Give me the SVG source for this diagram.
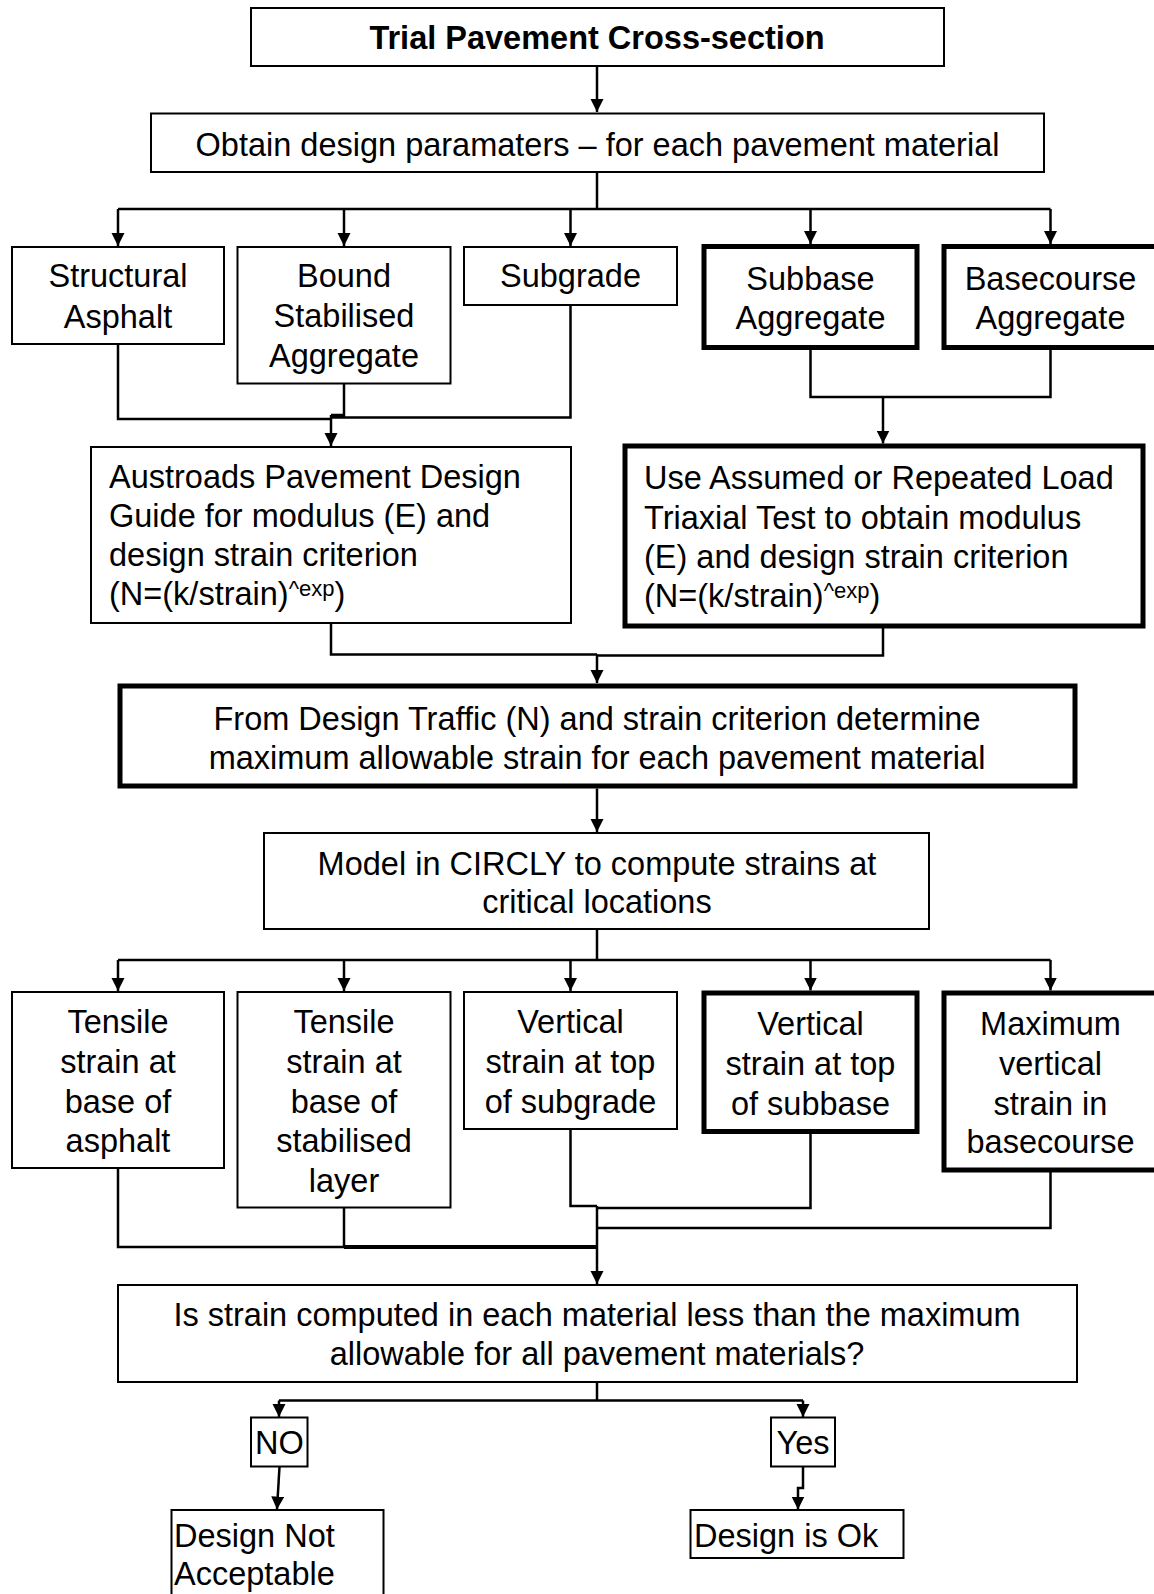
<svg xmlns="http://www.w3.org/2000/svg" width="1154" height="1594" viewBox="0 0 1154 1594">
  <style>
    .box { fill: #ffffff; stroke: #000000; stroke-width: 2; }
    .thick { fill: #ffffff; stroke: #000000; stroke-width: 5; }
    .lbl { font-family: "Liberation Sans", Arial, sans-serif; font-size: 32.5px; fill: #000000; }
    .c { text-anchor: middle; }
    .b { font-weight: bold; }
    .sup { font-size: 22px; }
    .wire { fill: none; stroke: #000000; stroke-width: 2.5; stroke-linejoin: miter; }
    .arrow { fill: none; stroke: #000000; stroke-width: 2.5; marker-end: url(#head); }
  </style>
  <defs>
    <marker id="head" markerUnits="userSpaceOnUse" markerWidth="14" markerHeight="14" refX="13" refY="6.5" orient="auto">
      <path d="M0,0 L13,6.5 L0,13 Z" fill="#000000"/>
    </marker>
  </defs>
  <rect width="1154" height="1594" fill="#ffffff"/>

  <!-- connectors -->
  <g id="connectors">
    <path class="arrow" d="M597,66 V112"/>
    <path class="wire" d="M597,172 V209 M118,209 H1050.5"/>
    <path class="arrow" d="M118,209 V246"/>
    <path class="arrow" d="M344,209 V246"/>
    <path class="arrow" d="M570.5,209 V246"/>
    <path class="arrow" d="M810.5,209 V244"/>
    <path class="arrow" d="M1050.5,209 V244"/>

    <path class="wire" d="M118,344 V419 H331 M344,383.5 V415 H331 M570.5,305 V417.5 H331"/>
    <path class="arrow" d="M331,415 V446"/>
    <path class="wire" d="M810.5,350 V397 H1050.5 V350"/>
    <path class="arrow" d="M883,397 V443.5"/>

    <path class="wire" d="M331,623 V654.5 H597 M883,628 V655.5 H597"/>
    <path class="arrow" d="M597,654.5 V683"/>
    <path class="arrow" d="M597,788.5 V832"/>

    <path class="wire" d="M597,929 V960 M118,960 H1050.5"/>
    <path class="arrow" d="M118,960 V991"/>
    <path class="arrow" d="M344,960 V991"/>
    <path class="arrow" d="M570.5,960 V991"/>
    <path class="arrow" d="M810.5,960 V990.5"/>
    <path class="arrow" d="M1050.5,960 V990.5"/>

    <path class="wire" d="M118,1168 V1247 H597 M344,1207.5 V1247"/>
    <path class="wire" style="stroke-width:4" d="M344,1247 H597"/>
    <path class="wire" d="M570.5,1129 V1206 H597 M810.5,1134 V1208 H597 M1050.5,1172 V1228 H597"/>
    <path class="arrow" d="M597,1206 V1284"/>

    <path class="wire" d="M597,1382 V1400.5 M279,1400.5 H803"/>
    <path class="arrow" d="M279,1400.5 V1417"/>
    <path class="arrow" d="M803,1400.5 V1417"/>
    <path class="arrow" d="M279.5,1466.5 L277,1509.5"/>
    <path class="arrow" d="M803,1466.5 V1488 H798 V1509.5"/>
  </g>

  <g id="trial-section">
    <rect class="box" x="251" y="8" width="693" height="58"/>
    <text class="lbl c b" x="597" y="49">Trial Pavement Cross-section</text>
  </g>

  <g id="design-parameters">
    <rect class="box" x="151" y="113.5" width="893" height="58.5"/>
    <text class="lbl c" x="597.5" y="156">Obtain design paramaters – for each pavement material</text>
  </g>

  <g id="structural-asphalt">
    <rect class="box" x="12" y="247" width="212" height="97"/>
    <text class="lbl c" x="118" y="287">Structural</text>
    <text class="lbl c" x="118" y="328">Asphalt</text>
  </g>

  <g id="bound-stabilised">
    <rect class="box" x="237.5" y="247" width="213" height="136.5"/>
    <text class="lbl c" x="344" y="287">Bound</text>
    <text class="lbl c" x="344" y="327">Stabilised</text>
    <text class="lbl c" x="344" y="367">Aggregate</text>
  </g>

  <g id="subgrade">
    <rect class="box" x="464" y="247" width="213" height="58"/>
    <text class="lbl c" x="570.5" y="287">Subgrade</text>
  </g>

  <g id="subbase-aggregate">
    <rect class="thick" x="704" y="246.5" width="213" height="101"/>
    <text class="lbl c" x="810.5" y="290">Subbase</text>
    <text class="lbl c" x="810.5" y="329">Aggregate</text>
  </g>

  <g id="basecourse-aggregate">
    <rect class="thick" x="944" y="246.5" width="220" height="101"/>
    <text class="lbl c" x="1050.5" y="290">Basecourse</text>
    <text class="lbl c" x="1050.5" y="329">Aggregate</text>
  </g>

  <g id="austroads-guide">
    <rect class="box" x="91" y="447" width="480" height="176"/>
    <text class="lbl" x="109" y="488">Austroads Pavement Design</text>
    <text class="lbl" x="109" y="527">Guide for modulus (E) and</text>
    <text class="lbl" x="109" y="566">design strain criterion</text>
    <text class="lbl" x="109" y="605">(N=(k/strain)<tspan class="sup" dy="-9">^exp</tspan><tspan dy="9">)</tspan></text>
  </g>

  <g id="triaxial-test">
    <rect class="thick" x="625" y="446" width="518" height="180"/>
    <text class="lbl" x="644" y="489">Use Assumed or Repeated Load</text>
    <text class="lbl" x="644" y="528.5">Triaxial Test to obtain modulus</text>
    <text class="lbl" x="644" y="568">(E) and design strain criterion</text>
    <text class="lbl" x="644" y="607">(N=(k/strain)<tspan class="sup" dy="-9">^exp</tspan><tspan dy="9">)</tspan></text>
  </g>

  <g id="allowable-strain">
    <rect class="thick" x="120" y="686" width="955" height="100"/>
    <text class="lbl c" x="597" y="730">From Design Traffic (N) and strain criterion determine</text>
    <text class="lbl c" x="597" y="769">maximum allowable strain for each pavement material</text>
  </g>

  <g id="circly-model">
    <rect class="box" x="264" y="833" width="665" height="96"/>
    <text class="lbl c" x="597" y="875">Model in CIRCLY to compute strains at</text>
    <text class="lbl c" x="597" y="913">critical locations</text>
  </g>

  <g id="tensile-asphalt">
    <rect class="box" x="12" y="992" width="212" height="176"/>
    <text class="lbl c" x="118" y="1033">Tensile</text>
    <text class="lbl c" x="118" y="1073">strain at</text>
    <text class="lbl c" x="118" y="1113">base of</text>
    <text class="lbl c" x="118" y="1152">asphalt</text>
  </g>

  <g id="tensile-stabilised">
    <rect class="box" x="237.5" y="992" width="213" height="215.5"/>
    <text class="lbl c" x="344" y="1033">Tensile</text>
    <text class="lbl c" x="344" y="1073">strain at</text>
    <text class="lbl c" x="344" y="1113">base of</text>
    <text class="lbl c" x="344" y="1152">stabilised</text>
    <text class="lbl c" x="344" y="1192">layer</text>
  </g>

  <g id="vertical-subgrade">
    <rect class="box" x="464" y="992" width="213" height="137"/>
    <text class="lbl c" x="570.5" y="1033">Vertical</text>
    <text class="lbl c" x="570.5" y="1073">strain at top</text>
    <text class="lbl c" x="570.5" y="1113">of subgrade</text>
  </g>

  <g id="vertical-subbase">
    <rect class="thick" x="704" y="993" width="213" height="138.5"/>
    <text class="lbl c" x="810.5" y="1035">Vertical</text>
    <text class="lbl c" x="810.5" y="1075">strain at top</text>
    <text class="lbl c" x="810.5" y="1115">of subbase</text>
  </g>

  <g id="max-basecourse">
    <rect class="thick" x="944" y="993" width="220" height="177"/>
    <text class="lbl c" x="1050.5" y="1035">Maximum</text>
    <text class="lbl c" x="1050.5" y="1075">vertical</text>
    <text class="lbl c" x="1050.5" y="1115">strain in</text>
    <text class="lbl c" x="1050.5" y="1153">basecourse</text>
  </g>

  <g id="strain-check">
    <rect class="box" x="118" y="1285" width="959" height="97"/>
    <text class="lbl c" x="597" y="1326">Is strain computed in each material less than the maximum</text>
    <text class="lbl c" x="597" y="1365">allowable for all pavement materials?</text>
  </g>

  <g id="answer-no">
    <rect class="box" x="251" y="1417.5" width="56.5" height="49"/>
    <text class="lbl c" x="279.3" y="1454">NO</text>
  </g>

  <g id="answer-yes">
    <rect class="box" x="771" y="1417.5" width="64" height="49"/>
    <text class="lbl c" x="803" y="1454">Yes</text>
  </g>

  <g id="not-acceptable">
    <rect class="box" x="171.5" y="1510" width="212" height="100"/>
    <text class="lbl" x="174" y="1547">Design Not</text>
    <text class="lbl" x="174" y="1585">Acceptable</text>
  </g>

  <g id="design-ok">
    <rect class="box" x="690.5" y="1510" width="213" height="48"/>
    <text class="lbl" x="694" y="1547">Design is Ok</text>
  </g>
</svg>
